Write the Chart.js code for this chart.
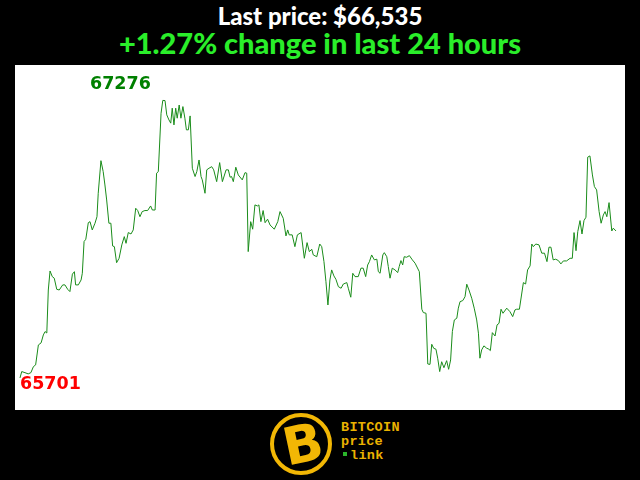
<!DOCTYPE html>
<html>
<head>
<meta charset="utf-8">
<script src="https://cdn.jsdelivr.net/npm/chart.js@4"></script>
<style>
  html, body { margin: 0; padding: 0; background: #000; }
  #wrap { position: relative; width: 640px; height: 480px; overflow: hidden; background: #000; font-family: Lato, sans-serif; }
  .title { position: absolute; left: 0; width: 640px; text-align: center; font-weight: 900; white-space: nowrap; }
  #t1 { top: 1px; font-size: 24px; color: #fff; }
  #t2 { top: 25px; font-size: 29px; color: #2aee2a; }
  #plot { position: absolute; left: 15px; top: 65px; width: 610px; height: 345px; background: #fff; }
  .lbl { position: absolute; font-family: "DejaVu Sans", sans-serif; font-weight: bold; font-size: 17.5px; line-height: 17px; }
  #maxLbl { left: 90px; top: 75px; color: #008000; }
  #minLbl { left: 20px; top: 375px; color: #ff0000; }
  #coin { position: absolute; left: 270px; top: 413px; width: 54px; height: 54px; border: 4px solid #f2b705; border-radius: 50%; background: #000; }
  #coin span { position: absolute; left: 9px; top: 0px; font-family: "DejaVu Sans", sans-serif; font-weight: bold; font-size: 52px; line-height: 54px; color: #f2b705; transform: rotate(-12deg); }
  #brand { position: absolute; left: 341px; top: 421px; font-family: "Liberation Mono", monospace; font-weight: bold; font-size: 13.5px; line-height: 14px; letter-spacing: 0.3px; color: #eab200; }
  #brand i { display: inline-block; width: 4px; height: 4px; background: #2bb52b; margin: 0 3px 3px 2px; vertical-align: middle; }
</style>
</head>
<body>
<div id="wrap">
  <div class="title" id="t1"></div>
  <div class="title" id="t2"></div>
  <div id="plot"><canvas id="chart" width="610" height="345"></canvas></div>
  <div class="lbl" id="maxLbl"></div>
  <div class="lbl" id="minLbl"></div>
  <div id="coin"><span>B</span></div>
  <div id="brand">BITCOIN<br>price<br><i></i>link</div>
</div>
<script>
// hours since 24h ago
const times = [
  0, 0.07, 0.20, 0.33, 0.44, 0.54, 0.63, 0.74, 0.85, 0.94,
  1.01, 1.08, 1.14, 1.21, 1.30, 1.38, 1.48, 1.58, 1.72, 1.81,
  1.92, 2.01, 2.11, 2.19, 2.24, 2.35, 2.46, 2.51, 2.58, 2.65,
  2.75, 2.82, 2.91, 3.02, 3.10, 3.15, 3.26, 3.35, 3.42, 3.49,
  3.58, 3.66, 3.73, 3.80, 3.89, 3.99, 4.10, 4.20, 4.27, 4.36,
  4.47, 4.56, 4.66, 4.74, 4.83, 4.92, 5.03, 5.14, 5.26, 5.33,
  5.44, 5.50, 5.57, 5.68, 5.75, 5.84, 5.91, 6.00, 6.07, 6.13,
  6.20, 6.27, 6.33, 6.41, 6.48, 6.56, 6.64, 6.70, 6.78, 6.85,
  6.94, 7.05, 7.12, 7.21, 7.29, 7.34, 7.45, 7.52, 7.61, 7.72,
  7.80, 7.92, 8.04, 8.15, 8.30, 8.39, 8.46, 8.52, 8.59, 8.69,
  8.79, 8.95, 9.06, 9.13, 9.19, 9.29, 9.37, 9.46, 9.56, 9.62,
  9.70, 9.79, 9.87, 9.97, 10.07, 10.24, 10.38, 10.47, 10.60, 10.71,
  10.78, 10.84, 10.96, 11.07, 11.17, 11.32, 11.45, 11.56, 11.65, 11.75,
  11.81, 11.95, 12.07, 12.15, 12.24, 12.32, 12.40, 12.48, 12.55, 12.64,
  12.72, 12.82, 12.93, 13.02, 13.16, 13.22, 13.32, 13.40, 13.49, 13.62,
  13.73, 13.82, 13.92, 14.00, 14.07, 14.16, 14.27, 14.37, 14.43, 14.50,
  14.61, 14.67, 14.77, 14.83, 14.90, 14.99, 15.10, 15.21, 15.27, 15.34,
  15.41, 15.47, 15.57, 15.68, 15.80, 15.91, 16.08, 16.18, 16.24, 16.35,
  16.42, 16.51, 16.58, 16.66, 16.75, 16.82, 16.90, 16.98, 17.07, 17.18,
  17.26, 17.34, 17.41, 17.49, 17.59, 17.65, 17.72, 17.83, 17.92, 17.99,
  18.08, 18.19, 18.29, 18.39, 18.46, 18.52, 18.59, 18.68, 18.79, 18.88,
  18.94, 19.02, 19.13, 19.21, 19.29, 19.37, 19.45, 19.60, 19.73, 19.84,
  19.93, 20.00, 20.11, 20.27, 20.36, 20.44, 20.54, 20.61, 20.67, 20.77,
  20.90, 21.01, 21.12, 21.22, 21.30, 21.38, 21.47, 21.57, 21.68, 21.78,
  21.88, 22.01, 22.15, 22.24, 22.31, 22.39, 22.46, 22.55, 22.63, 22.71,
  22.79, 22.86, 22.95, 23.05, 23.13, 23.22, 23.32, 23.40, 23.49, 23.56,
  23.63, 23.72, 23.83, 23.89, 24.00
];

// BTC price in USD
const prices = [
  65701, 65737, 65731, 65724, 65731, 65765, 65775, 65888, 65900, 65945,
  65964, 65956, 66200, 66308, 66276, 66267, 66204, 66200, 66229, 66229,
  66204, 66191, 66290, 66304, 66229, 66229, 66257, 66295, 66475, 66488,
  66582, 66588, 66541, 66579, 66616, 66749, 66934, 66872, 66796, 66711,
  66579, 66579, 66450, 66446, 66355, 66380, 66456, 66503, 66465, 66526,
  66518, 66541, 66664, 66651, 66616, 66645, 66651, 66651, 66677, 66654,
  66654, 66863, 66872, 67203, 67276, 67275, 67194, 67165, 67147, 67232,
  67137, 67232, 67175, 67250, 67175, 67241, 67175, 67109, 67109, 67188,
  66891, 66844, 66872, 66938, 66844, 66825, 66749, 66882, 66891, 66900,
  66882, 66815, 66923, 66815, 66882, 66882, 66840, 66844, 66815, 66897,
  66853, 66825, 66866, 66863, 66418, 66588, 66545, 66683, 66677, 66683,
  66588, 66651, 66582, 66602, 66569, 66545, 66588, 66645, 66607, 66507,
  66541, 66513, 66513, 66446, 66513, 66526, 66380, 66469, 66418, 66431,
  66399, 66389, 66461, 66446, 66361, 66247, 66115, 66257, 66314, 66280,
  66261, 66219, 66210, 66234, 66242, 66210, 66159, 66295, 66276, 66276,
  66324, 66324, 66276, 66342, 66361, 66399, 66371, 66375, 66304, 66295,
  66399, 66412, 66389, 66333, 66267, 66324, 66314, 66299, 66333, 66367,
  66342, 66389, 66386, 66395, 66371, 66352, 66304, 66091, 66072, 66068,
  65780, 65778, 65892, 65869, 65864, 65813, 65737, 65793, 65759, 65799,
  65750, 65803, 65964, 66030, 66040, 66097, 66134, 66140, 66162, 66233,
  66200, 66153, 66097, 66030, 65955, 65813, 65860, 65883, 65870, 65864,
  65856, 65958, 65939, 66002, 66011, 66091, 66068, 66097, 66077, 66049,
  66087, 66091, 66091, 66242, 66234, 66314, 66337, 66461, 66446, 66461,
  66456, 66409, 66409, 66361, 66443, 66443, 66371, 66375, 66367, 66348,
  66365, 66365, 66380, 66380, 66526, 66423, 66531, 66594, 66518, 66594,
  66613, 66954, 66961, 66853, 66787, 66768, 66645, 66579, 66626, 66645,
  66616, 66696, 66535, 66551, 66535
];

const lastPrice = prices[prices.length - 1];
const change = (lastPrice - prices[0]) / prices[0] * 100;
const hi = Math.max(...prices);
const lo = Math.min(...prices);

document.getElementById("t1").textContent = "Last price: $" + lastPrice.toLocaleString("en-US");
document.getElementById("t2").textContent = (change >= 0 ? "+" : "") + change.toFixed(2) + "% change in last 24 hours";
document.getElementById("maxLbl").textContent = hi;
document.getElementById("minLbl").textContent = lo;

const ctx = document.getElementById("chart").getContext("2d");
new Chart(ctx, {
  type: "line",
  data: {
    datasets: [
      {
        data: times.map((t, i) => ({ x: t, y: prices[i] })),
        borderColor: "#1a8c1a",
        borderWidth: 1,
        pointRadius: 0,
        tension: 0,
        fill: false,
      },
    ],
  },
  options: {
    responsive: false,
    animation: false,
    layout: { padding: 0 },
    scales: {
      x: { type: "linear", display: false, min: -0.201, max: 24.362 },
      y: { display: false, min: 65519, max: 67477 },
    },
    plugins: {
      legend: { display: false },
      tooltip: { enabled: false },
    },
  },
});
</script>
</body>
</html>
